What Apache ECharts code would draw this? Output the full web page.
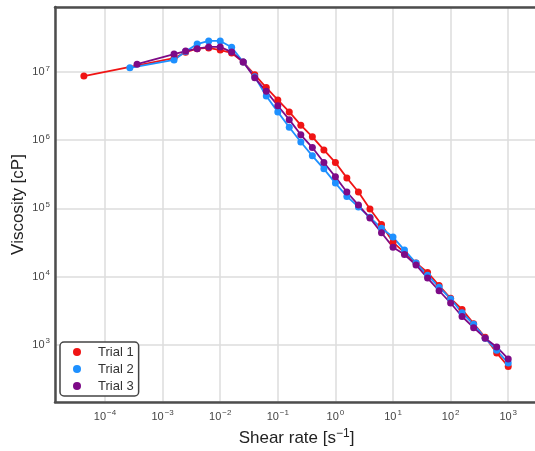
<!DOCTYPE html>
<html>
<head>
  <meta charset="utf-8" />
  <style>
    body, html { margin: 0; width: 100%; height: 100%; background: #fff; }
    #chart { width: 535px; height: 451px; }
  </style>
  <script src="https://cdn.jsdelivr.net/npm/echarts@6/dist/echarts.min.js"></script>
</head>
<body>
<div id="chart"></div>
<script>
  // shared shear rates (5 points per decade, 10^-2.8 .. 10^3)
  const shearRate = [0.00158, 0.00251, 0.00398, 0.00631, 0.01, 0.0158, 0.0251, 0.0398, 0.0631,
    0.1, 0.158, 0.251, 0.398, 0.631, 1, 1.58, 2.51, 3.98, 6.31,
    10, 15.8, 25.1, 39.8, 63.1, 100, 158, 251, 398, 631, 1000]

  // first low-rate point of each trial
  const startRate = [4.3e-5, 2.7e-4, 3.6e-4]
  const startVisc = [8.7e6, 1.15e7, 1.3e7]

  const trial1 = [1.6e7, 1.95e7, 2.2e7, 2.25e7, 2.1e7, 1.9e7, 1.4e7, 9.1e6, 5.9e6, 3.9e6,
    2.6e6, 1.66e6, 1.12e6, 7.2e5, 4.7e5, 2.8e5, 1.74e5, 9.8e4, 5.8e4, 3.2e4,
    2.24e4, 1.58e4, 1.15e4, 7400, 4800, 3300, 2040, 1290, 760, 480]
  const trial2 = [1.5e7, 2.0e7, 2.57e7, 2.85e7, 2.85e7, 2.3e7, 1.4e7, 8.5e6, 4.45e6, 2.6e6,
    1.55e6, 9.4e5, 5.9e5, 3.8e5, 2.35e5, 1.5e5, 1.05e5, 7.4e4, 5.1e4, 3.8e4,
    2.45e4, 1.58e4, 1.05e4, 7000, 4700, 2950, 2000, 1250, 830, 540]
  const trial3 = [1.83e7, 2.03e7, 2.2e7, 2.33e7, 2.33e7, 1.96e7, 1.4e7, 8.2e6, 5.2e6, 3.2e6,
    2.0e6, 1.2e6, 7.8e5, 4.7e5, 2.9e5, 1.74e5, 1.12e5, 7.2e4, 4.4e4, 2.7e4,
    2.1e4, 1.48e4, 9500, 6200, 4100, 2600, 1780, 1250, 930, 620]

  const names = ['Trial 1', 'Trial 2', 'Trial 3']
  const colors = ['#f01414', '#1e90ff', '#7d0a87']
  const trials = [trial1, trial2, trial3]

  const font = 'Liberation Sans'

  function powLabel(v) {
    let e = Math.round(Math.log10(v))
    let s = e < 0 ? '\u2212' + (-e) : '' + e
    return '10{e|' + s + '}'
  }

  const labelRich = {
    e: { fontSize: 8, fontFamily: font, color: '#444', verticalAlign: 'top', padding: [0, 0, 7, 1] }
  }

  let chart = echarts.init(document.getElementById('chart'))

  let series = trials.map((t, i) => ({
    name: names[i],
    type: 'line',
    symbol: 'circle',
    symbolSize: 7,
    color: colors[i],
    lineStyle: { width: 1.8 },
    animation: false,
    data: [[startRate[i], startVisc[i]]].concat(shearRate.map((x, k) => [x, t[k]]))
  }))

  let spine = { show: true, lineStyle: { color: '#4d4d4d', width: 2.5 } }

  let option = {
    backgroundColor: '#fff',
    grid: {
      left: 55, top: 7, right: -3, bottom: 49,
      outerBoundsMode: 'none',
      containLabel: false
    },
    legend: {
      left: 60, top: 342,
      orient: 'vertical',
      icon: 'circle',
      itemWidth: 8, itemHeight: 8,
      itemGap: 3,
      padding: [3, 5, 3, 13],
      borderColor: '#444', borderWidth: 1.5, borderRadius: 4,
      backgroundColor: '#fff',
      textStyle: { fontFamily: font, fontSize: 13, color: '#333', lineHeight: 14, padding: [0, 0, 0, 12] },
      data: names
    },
    xAxis: [{
      type: 'log',
      min: Math.pow(10, -4.868),
      max: Math.pow(10, 3.517),
      name: 'Shear rate [s{e|\u22121}]',
      nameLocation: 'middle',
      nameGap: 26,
      nameMoveOverlap: false,
      nameTextStyle: {
        fontFamily: font, fontSize: 17, color: '#222',
        rich: { e: { fontSize: 12, fontFamily: font, color: '#222', verticalAlign: 'top', padding: [0, 0, 9, 0] } }
      },
      axisLine: spine,
      axisTick: { show: false },
      axisLabel: {
        fontFamily: font, fontSize: 11, color: '#444', margin: 7,
        showMinLabel: false, showMaxLabel: false,
        formatter: powLabel, rich: labelRich
      },
      splitLine: { show: true, lineStyle: { color: '#dcdcdc', width: 1.5 } },
      minorTick: { show: false }
    }, {
      type: 'log',
      position: 'top',
      min: Math.pow(10, -4.868),
      max: Math.pow(10, 3.517),
      axisLine: spine,
      axisTick: { show: false },
      axisLabel: { show: false },
      splitLine: { show: false }
    }],
    yAxis: {
      type: 'log',
      min: Math.pow(10, 2.161),
      max: Math.pow(10, 7.953),
      name: 'Viscosity [cP]',
      nameLocation: 'middle',
      nameGap: 28,
      nameMoveOverlap: false,
      nameRotate: 90,
      nameTextStyle: { fontFamily: font, fontSize: 17, color: '#222' },
      axisLine: spine,
      axisTick: { show: false },
      axisLabel: {
        fontFamily: font, fontSize: 11, color: '#444', margin: 5,
        showMinLabel: false, showMaxLabel: false,
        formatter: powLabel, rich: labelRich
      },
      splitLine: { show: true, lineStyle: { color: '#dcdcdc', width: 1.5 } }
    },
    series: series
  }

  chart.setOption(option)
</script>
</body>
</html>
